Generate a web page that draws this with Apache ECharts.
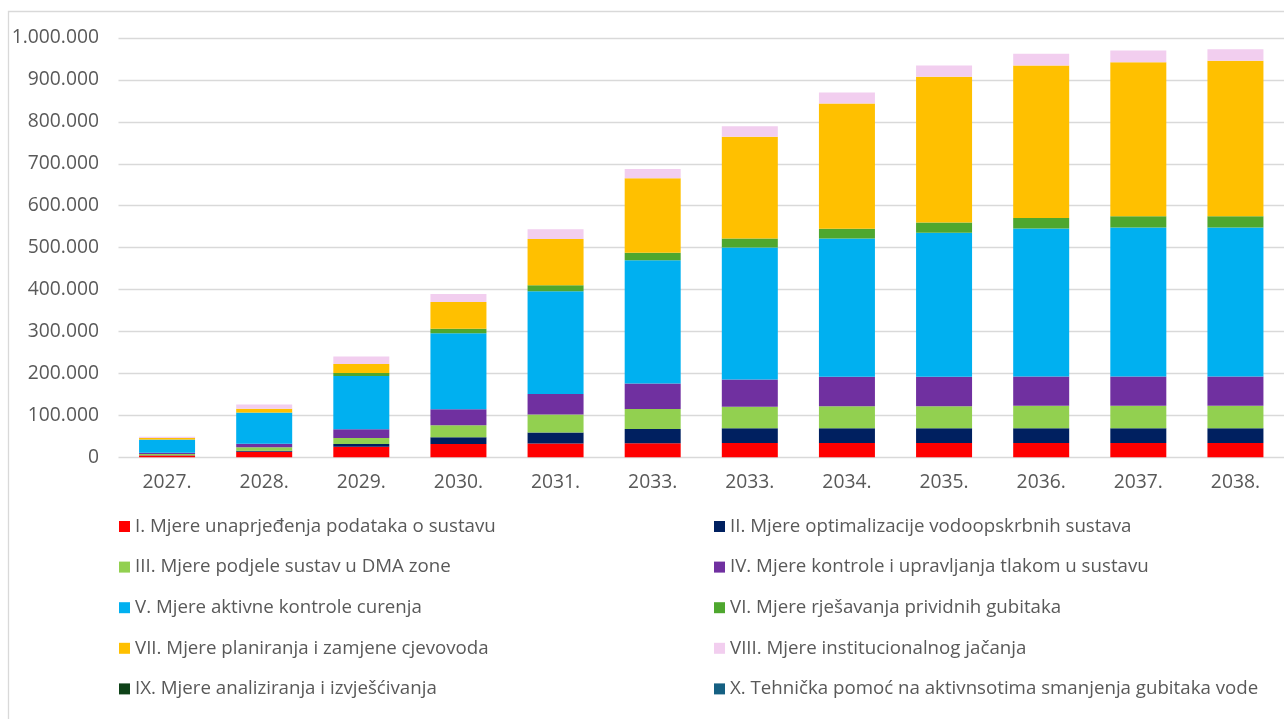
<!DOCTYPE html>
<html>
<head>
<meta charset="utf-8">
<script src="https://cdn.jsdelivr.net/npm/echarts@6/dist/echarts.min.js"></script>
<style>
  html, body { margin: 0; padding: 0; background: #ffffff; }
  #chart { width: 1284px; height: 719px; }
</style>
</head>
<body>
<div id="chart"></div>
<script>
const categories = ['2027.', '2028.', '2029.', '2030.', '2031.', '2033.', '2033.', '2034.', '2035.', '2036.', '2037.', '2038.'];

const seriesNames = [
  'I. Mjere unaprjeđenja podataka o sustavu',
  'II. Mjere optimalizacije vodoopskrbnih sustava',
  'III. Mjere podjele sustav u DMA zone',
  'IV. Mjere kontrole i upravljanja tlakom u sustavu',
  'V. Mjere aktivne kontrole curenja',
  'VI. Mjere rješavanja prividnih gubitaka',
  'VII. Mjere planiranja i zamjene cjevovoda',
  'VIII. Mjere institucionalnog jačanja',
  'IX. Mjere analiziranja i izvješćivanja',
  'X. Tehnička pomoć na aktivnsotima smanjenja gubitaka vode'
];

const s1 = [4000, 13000, 25000, 32000, 33000, 33500, 34000, 34000, 34000, 34000, 34000, 34000];
const s2 = [1000, 2400, 7000, 16000, 26000, 34000, 35000, 35000, 35000, 35000, 35000, 35000];
const s3 = [3000, 8800, 14300, 28600, 43000, 47700, 51600, 53000, 53000, 54000, 54000, 54000];
const s4 = [3000, 7900, 20700, 38000, 49000, 61000, 65000, 70000, 70000, 70000, 70000, 70000];
const s5 = [31000, 74000, 127000, 181000, 245000, 293600, 315000, 330000, 343700, 352500, 355000, 355000];
const s6 = [500, 1000, 7000, 11000, 14300, 18000, 21500, 23000, 24000, 25500, 27000, 27000];
const s7 = [3500, 8800, 21500, 64000, 110500, 178000, 242500, 299000, 347700, 363500, 367000, 371000];
const s8 = [3000, 10000, 18000, 19000, 23000, 21500, 24800, 26000, 27000, 28000, 28000, 27000];
const s9 = [0, 0, 0, 0, 0, 0, 0, 0, 0, 0, 0, 0];
const s10 = [0, 0, 0, 0, 0, 0, 0, 0, 0, 0, 0, 0];

const yTicks = { min: 0, max: 1000000, interval: 100000 };

const colors = ['#FF0000', '#002060', '#92D050', '#7030A0', '#00B0F0', '#4EA72E', '#FFC000', '#F2CEEF', '#0E4218', '#156082'];
const allData = [s1, s2, s3, s4, s5, s6, s7, s8, s9, s10];

const FONT = 'Open Sans';
const TXT = '#595959';

function fmt(v) {
  return String(v).replace(/\B(?=(\d{3})+(?!\d))/g, '.');
}

const series = allData.map((d, i) => ({
  name: seriesNames[i],
  type: 'bar',
  stack: 'total',
  barWidth: 56,
  itemStyle: { color: colors[i] },
  emphasis: { disabled: true },
  data: d
}));

const legendCommon = {
  orient: 'vertical',
  icon: 'rect',
  itemWidth: 11,
  itemHeight: 11,
  itemGap: 20.6,
  padding: 0,
  selectedMode: false,
  textStyle: { fontFamily: FONT, fontSize: 18.7, color: TXT, lineHeight: 20 }
};

const chart = echarts.init(document.getElementById('chart'), null, { renderer: 'canvas' });
chart.setOption({
  animation: false,
  color: colors,
  textStyle: { fontFamily: FONT },
  graphic: [{
    type: 'rect',
    shape: { x: 8.5, y: 11.5, width: 1300, height: 730 },
    style: { fill: null, stroke: '#d9d9d9', lineWidth: 1.3 },
    silent: true,
    z: -10
  }],
  grid: { left: 118.5, top: 38, width: 1175, height: 419.3, containLabel: false },
  legend: [
    Object.assign({}, legendCommon, { left: 119, top: 516.5, data: [seriesNames[0], seriesNames[2], seriesNames[4], seriesNames[6], seriesNames[8]] }),
    Object.assign({}, legendCommon, { left: 714, top: 516.5, data: [seriesNames[1], seriesNames[3], seriesNames[5], seriesNames[7], seriesNames[9]] })
  ],
  xAxis: {
    type: 'category',
    data: categories,
    axisLine: { show: false },
    axisTick: { show: false },
    axisLabel: { margin: 16, fontFamily: FONT, fontSize: 19.3, color: TXT }
  },
  yAxis: {
    type: 'value',
    min: yTicks.min,
    max: yTicks.max,
    interval: yTicks.interval,
    axisLine: { show: false },
    axisTick: { show: false },
    splitLine: { lineStyle: { color: '#d9d9d9', width: 1.3 } },
    axisLabel: { margin: 19.5, fontFamily: FONT, fontSize: 19.3, color: TXT, formatter: fmt }
  },
  series: series
});
</script>
</body>
</html>
